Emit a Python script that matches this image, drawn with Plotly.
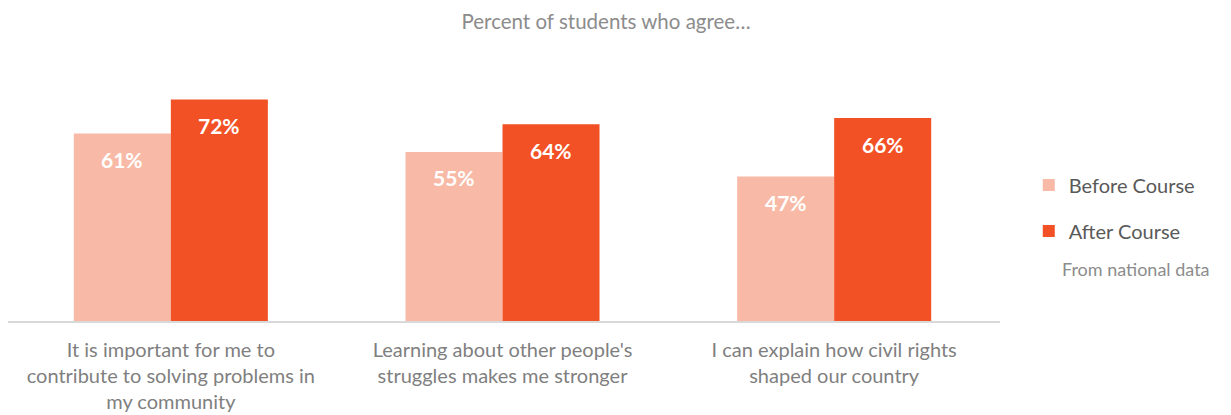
import plotly.graph_objects as go

categories = [
    "It is important for me to<br>contribute to solving problems in<br>my community",
    "Learning about other people's<br>struggles makes me stronger",
    "I can explain how civil rights<br>shaped our country",
]
before = [61, 55, 47]
after = [72, 64, 66]
series_names = ["Before Course", "After Course"]
colors = ["#F8BAA6", "#F25125"]

fig = go.Figure()
for i, (name, vals) in enumerate(zip(series_names, [before, after])):
    fig.add_trace(go.Bar(
        x=categories, y=vals, name=name,
        marker=dict(color=colors[i], line=dict(width=0)),
        legendgroup=name,
        hoverinfo="skip",
    ))
    for c, v in zip(categories, vals):
        fig.add_annotation(
            x=c, y=v, xref="x", yref="y", text=f"<b>{v}%</b>",
            showarrow=False, xshift=(-48.5 if i == 0 else 48.5), yshift=-26,
            yanchor="middle", font=dict(family="Lato", size=21, color="white"),
        )

fig.add_annotation(
    x=1.0605, y=0.211, xref="paper", yref="paper", text="From national data",
    showarrow=False, font=dict(family="Lato", size=18, color="#8C8C8C"),
    xanchor="left", yanchor="middle",
)

fig.update_layout(
    width=1223, height=407,
    margin=dict(l=0, r=231, t=67, b=94),
    paper_bgcolor="white", plot_bgcolor="white",
    barmode="group", bargap=0.415, bargroupgap=0,
    title=dict(text="Percent of students who agree…", x=0.489, xref="container",
               xanchor="center", y=0.965, yref="container", yanchor="middle",
               font=dict(family="Lato", size=20.5, color="#8C8C8C")),
    legend=dict(x=1.029, y=0.459, xanchor="left", yanchor="middle",
                font=dict(family="Lato", size=20, color="#595959"),
                traceorder="grouped", tracegroupgap=17),
    font=dict(family="Lato"),
)
fig.update_xaxes(showline=True, linecolor="#D9D9D9", linewidth=1.5,
                 range=[-0.491, 2.5], automargin=False,
                 tickfont=dict(family="Lato", size=20, color="#7F7F7F"),
                 ticks="", showgrid=False, ticklabelstandoff=10)
fig.update_yaxes(range=[0, 80], visible=False, showgrid=False)

fig.write_html("out.html")
